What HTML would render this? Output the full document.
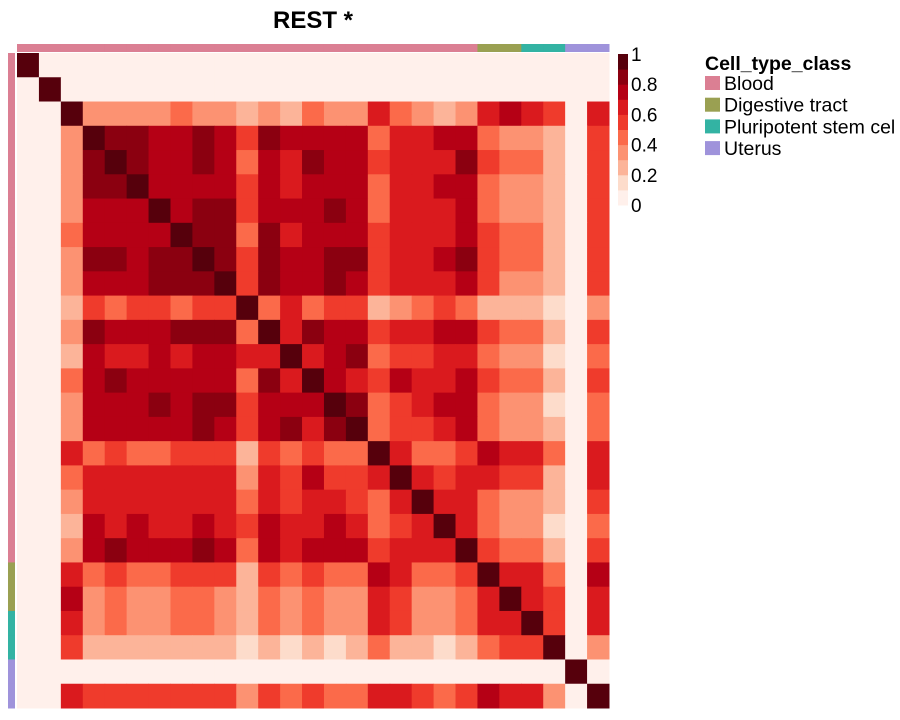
<!DOCTYPE html>
<html><head><meta charset="utf-8"><style>
html,body{margin:0;padding:0;background:#fff;}
svg{display:block;font-family:"Liberation Sans",Arial,sans-serif;}
</style></head><body>
<svg id="chart" width="900" height="720" xmlns="http://www.w3.org/2000/svg">
<text x="313" y="28" text-anchor="middle" font-size="24" font-weight="bold">REST *</text>
<g id="cells"></g>
<g id="annot"></g>
<g id="scale"></g>
<g id="legend">
<text x="705" y="70" font-size="19.5" font-weight="bold">Cell_type_class</text>
</g>
</svg>
<script>
const classNames = ["Blood","Digestive tract","Pluripotent stem cel","Uterus"];
const classColors = ["#DB7F93","#9AA052","#33B3A3","#9F93DB"];
const sampleClass = [0,0,0,0,0,0,0,0,0,0,0,0,0,0,0,0,0,0,0,0,0,1,1,2,2,3,3];
const scaleTicks = [0,0.2,0.4,0.6,0.8,1];
const scaleLabels = ["0","0.2","0.4","0.6","0.8","1"];
const binColors = ["#FFF0EB","#FDDCCB","#FCB499","#FC9272","#FB6A4A","#EF3B2C","#DA1A1E","#B50015","#8B0010","#56000C"];
const corr = [
[1,0,0,0,0,0,0,0,0,0,0,0,0,0,0,0,0,0,0,0,0,0,0,0,0,0,0],
[0,1,0,0,0,0,0,0,0,0,0,0,0,0,0,0,0,0,0,0,0,0,0,0,0,0,0],
[0,0,1,.35,.35,.35,.35,.45,.35,.35,.25,.35,.25,.45,.35,.35,.65,.45,.35,.25,.35,.65,.75,.65,.55,0,.65],
[0,0,.35,1,.85,.85,.75,.75,.85,.75,.55,.85,.75,.75,.75,.75,.45,.65,.65,.75,.75,.45,.35,.35,.25,0,.55],
[0,0,.35,.85,1,.85,.75,.75,.85,.75,.45,.75,.65,.85,.75,.75,.55,.65,.65,.65,.85,.55,.45,.45,.25,0,.55],
[0,0,.35,.85,.85,1,.75,.75,.75,.75,.55,.75,.65,.75,.75,.75,.45,.65,.65,.75,.75,.45,.35,.35,.25,0,.55],
[0,0,.35,.75,.75,.75,1,.75,.85,.85,.55,.75,.75,.75,.85,.75,.45,.65,.65,.65,.75,.45,.35,.35,.25,0,.55],
[0,0,.45,.75,.75,.75,.75,1,.85,.85,.45,.85,.65,.75,.75,.75,.55,.65,.65,.65,.75,.55,.45,.45,.25,0,.55],
[0,0,.35,.85,.85,.75,.85,.85,1,.85,.55,.85,.75,.75,.85,.85,.55,.65,.65,.75,.85,.55,.45,.45,.25,0,.55],
[0,0,.35,.75,.75,.75,.85,.85,.85,1,.55,.85,.75,.75,.85,.75,.55,.65,.65,.65,.75,.55,.35,.35,.25,0,.55],
[0,0,.25,.55,.45,.55,.55,.45,.55,.55,1,.45,.65,.45,.55,.55,.25,.35,.45,.55,.45,.25,.25,.25,.15,0,.35],
[0,0,.35,.85,.75,.75,.75,.85,.85,.85,.45,1,.65,.85,.75,.75,.55,.65,.65,.75,.75,.55,.45,.45,.25,0,.55],
[0,0,.25,.75,.65,.65,.75,.65,.75,.75,.65,.65,1,.65,.75,.85,.45,.55,.55,.65,.65,.45,.35,.35,.15,0,.45],
[0,0,.45,.75,.85,.75,.75,.75,.75,.75,.45,.85,.65,1,.75,.65,.55,.75,.65,.65,.75,.55,.45,.45,.25,0,.55],
[0,0,.35,.75,.75,.75,.85,.75,.85,.85,.55,.75,.75,.75,1,.85,.45,.55,.65,.75,.75,.45,.35,.35,.15,0,.45],
[0,0,.35,.75,.75,.75,.75,.75,.85,.75,.55,.75,.85,.65,.85,1,.45,.55,.55,.65,.75,.45,.35,.35,.25,0,.45],
[0,0,.65,.45,.55,.45,.45,.55,.55,.55,.25,.55,.45,.55,.45,.45,1,.65,.45,.45,.55,.75,.65,.65,.45,0,.65],
[0,0,.45,.65,.65,.65,.65,.65,.65,.65,.35,.65,.55,.75,.55,.55,.65,1,.65,.55,.65,.65,.55,.55,.25,0,.65],
[0,0,.35,.65,.65,.65,.65,.65,.65,.65,.45,.65,.55,.65,.65,.55,.45,.65,1,.65,.65,.45,.35,.35,.25,0,.55],
[0,0,.25,.75,.65,.75,.65,.65,.75,.65,.55,.75,.65,.65,.75,.65,.45,.55,.65,1,.65,.45,.35,.35,.15,0,.45],
[0,0,.35,.75,.85,.75,.75,.75,.85,.75,.45,.75,.65,.75,.75,.75,.55,.65,.65,.65,1,.55,.45,.45,.25,0,.55],
[0,0,.65,.45,.55,.45,.45,.55,.55,.55,.25,.55,.45,.55,.45,.45,.75,.65,.45,.45,.55,1,.65,.65,.45,0,.75],
[0,0,.75,.35,.45,.35,.35,.45,.45,.35,.25,.45,.35,.45,.35,.35,.65,.55,.35,.35,.45,.65,1,.65,.55,0,.65],
[0,0,.65,.35,.45,.35,.35,.45,.45,.35,.25,.45,.35,.45,.35,.35,.65,.55,.35,.35,.45,.65,.65,1,.55,0,.65],
[0,0,.55,.25,.25,.25,.25,.25,.25,.25,.15,.25,.15,.25,.15,.25,.45,.25,.25,.15,.25,.45,.55,.55,1,0,.35],
[0,0,0,0,0,0,0,0,0,0,0,0,0,0,0,0,0,0,0,0,0,0,0,0,0,1,0],
[0,0,.65,.55,.55,.55,.55,.55,.55,.55,.35,.55,.45,.55,.45,.45,.65,.65,.55,.45,.55,.75,.65,.65,.35,0,1]
];
const NS="http://www.w3.org/2000/svg";
const X0=17,X1=609,Y0=53,Y1=708;
const n=corr.length;
const cw=(X1-X0)/n, ch=(Y1-Y0)/n;
function xPos(i){return X0+i*cw;}
function yPos(i){return Y0+i*ch;}
function colorFor(v){let b=Math.floor(v*10);if(b>9)b=9;if(b<0)b=0;return binColors[b];}
function mk(tag,attrs,parent){const e=document.createElementNS(NS,tag);for(const k in attrs)e.setAttribute(k,attrs[k]);parent.appendChild(e);return e;}
const cells=document.getElementById('cells');
for(let r=0;r<n;r++)for(let c=0;c<n;c++){
  const e=mk('rect',{x:xPos(c),y:yPos(r),width:cw+0.5,height:ch+0.5,fill:colorFor(corr[r][c])},cells);
  
  
}
const annot=document.getElementById('annot');
for(let i=0;i<n;i++){
  const t=mk('rect',{x:xPos(i),y:44,width:cw+0.5,height:8,fill:classColors[sampleClass[i]]},annot);
  
  
  const l=mk('rect',{x:8,y:yPos(i),width:7,height:ch+0.5,fill:classColors[sampleClass[i]]},annot);
  
  
}
const scale=document.getElementById('scale');
const SY0=54,SY1=205;
function sY(v){return SY1-(SY1-SY0)*v;}
for(let b=0;b<binColors.length;b++){
  const e=mk('rect',{x:618,y:sY((b+1)/10),width:10,height:(SY1-SY0)/10+0.5,fill:binColors[b]},scale);
  
  
}
for(let i=0;i<scaleTicks.length;i++){
  const t=mk('text',{x:631,y:sY(scaleTicks[i])+7,'font-size':19},scale);
  t.textContent=scaleLabels[i];
  
  
}
const legend=document.getElementById('legend');
for(let i=0;i<classNames.length;i++){
  const y=76+i*21.7;
  const s=mk('rect',{x:705,y:y,width:15,height:14,fill:classColors[i]},legend);
  
  
  const t=mk('text',{x:724,y:y+14,'font-size':19.5},legend);
  t.textContent=classNames[i];
  
  
}
</script>
</body></html>
